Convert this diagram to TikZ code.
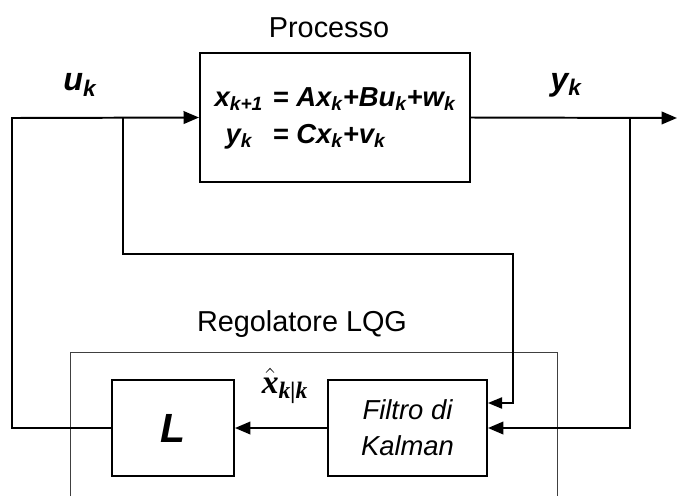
\documentclass[tikz,border=0pt]{standalone}
\usepackage{fontspec}
\setmainfont{Liberation Sans}
\newfontfamily\timesbi{Liberation Serif}
\usetikzlibrary{arrows.meta}
\usetikzlibrary{positioning}
\tikzstyle{block} = [draw,line width=1.4pt,inner sep=0pt,align=center]
\tikzstyle{wire} = [draw,line width=1.4pt]
\tikzstyle{signal} = [draw,line width=1.4pt,-{Triangle[length=11pt,width=9pt]}]
\tikzstyle{tap} = [draw,line width=1pt,-{Triangle[length=10pt,width=8pt]}]
\tikzstyle{regframe} = [draw,black!75,line width=0.7pt]
\tikzstyle{caption} = [font=\fontsize{20.5}{24}\selectfont]
\tikzstyle{sig} = [font=\fontsize{23}{26}\selectfont\bfseries\itshape]

\begin{document}
\begin{tikzpicture}[x=0.025cm,y=-0.025cm]
    \useasboundingbox (0,0) rectangle (677,496);

    % regolatore frame (open at the bottom)
    \draw[regframe] (70,496) |- (557,352) -- (557,496);

    % blocks
    \node[block,minimum width=6.75cm,minimum height=3.225cm,
          font=\fontsize{19.5}{26}\selectfont\bfseries\itshape] (proc) at (335,117.5)
        {\begin{tabular}{@{}c@{\hspace{0.35em}}l@{}}
         x\textsubscript{k+1} & = Ax\textsubscript{k}+Bu\textsubscript{k}+w\textsubscript{k}\\
         y\textsubscript{k} & = Cx\textsubscript{k}+v\textsubscript{k}
         \end{tabular}};
    \node[block,minimum width=3.05cm,minimum height=2.4cm,
          font=\fontsize{29}{32}\selectfont\bfseries\itshape] (lgain) at (173,428) {L};
    \node[block,minimum width=3.975cm,minimum height=2.4cm,
          font=\fontsize{19.5}{25.6}\selectfont\itshape] (kf) at (407.5,428) {Filtro di\\Kalman};

    % texts
    \node[caption] (proctitle) at (329,28) {Processo};
    \node[caption] (regtitle) at (302,324) {Regolatore LQG};
    \node[sig] (ulabel) at (80,85) {u\textsubscript{k}};
    \node[sig] (ylabel) at (566,85) {y\textsubscript{k}};
    \node[font=\fontsize{24}{26}\selectfont\timesbi\bfseries\itshape,inner sep=0pt] (xhat) at (285,386)
        {$\hat{\mbox{x}}$\textsubscript{k|k}};

    % corners and branch points
    \coordinate (uleft) at (12,118);
    \coordinate (ubr) at (123,118);
    \coordinate (ubend) at (513,254);
    \coordinate (ybr) at (630,118);
    \coordinate (yout) at (677,118);

    % connections
    \path[signal] (lgain.west) -| (uleft) -- (proc.west);
    \path[signal] (proc.east) -- (yout);
    \path[tap] (ubr) |- (ubend) |- ([yshift=0.625cm]kf.east);
    \path[signal] (ybr) |- (kf.east);
    \path[signal] (kf.west) -- (lgain.east);

\end{tikzpicture}
\end{document}
